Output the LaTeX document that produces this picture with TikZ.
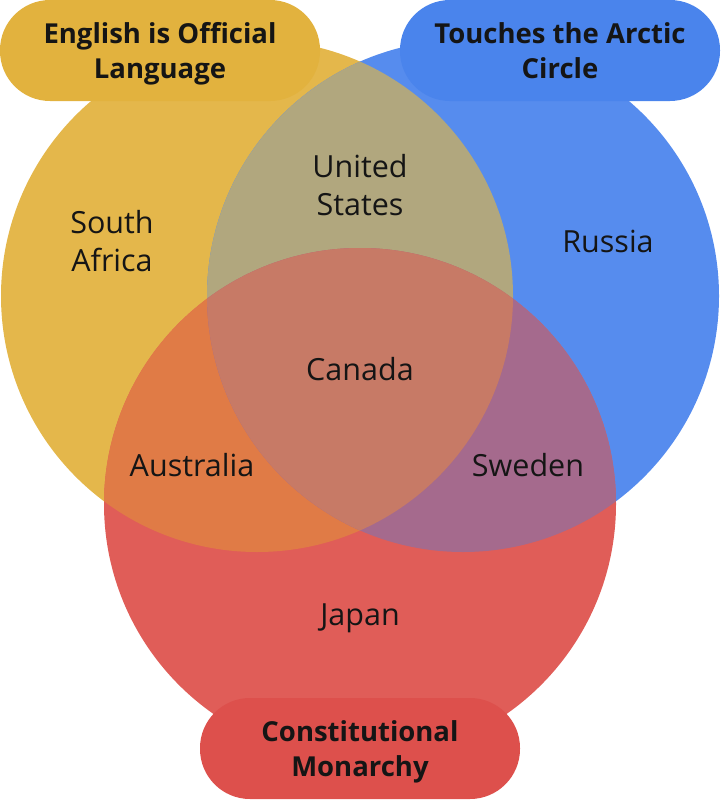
\documentclass[tikz,border=0pt]{standalone}
\usepackage{fontspec}
\setmainfont{Open Sans}
\usepackage{tikz}
\usetikzlibrary{positioning}
\definecolor{engfill}{HTML}{E4B74B}
\definecolor{arcfill}{HTML}{568CEE}
\definecolor{monfill}{HTML}{E05D58}
\definecolor{engarc}{HTML}{B1A77E}
\definecolor{engmon}{HTML}{E07B46}
\definecolor{arcmon}{HTML}{A56A8D}
\definecolor{allthree}{HTML}{C77A66}
\definecolor{engtag}{HTML}{E2B23E}
\definecolor{arctag}{HTML}{4A84EC}
\definecolor{montag}{HTML}{DD504C}
\definecolor{labeltext}{HTML}{151515}

\begin{document}
\begin{tikzpicture}[
  x=1pt, y=-1pt,
  tag/.style={rounded corners=50pt, minimum width=320pt, minimum height=101pt, inner sep=0pt, text depth=0pt, align=center, text=labeltext, font=\bfseries\fontsize{27.5}{35}\selectfont},
  country/.style={align=center, inner sep=0pt, text=labeltext, font=\fontsize{30.5}{38}\selectfont}
]
  \useasboundingbox (0,0) rectangle (720,800);
  \coordinate (ceng) at (257,296);
  \coordinate (carc) at (463,296);
  \coordinate (cmon) at (360,504);

  % the three sets
  \fill[engfill] (ceng) circle (256pt);
  \fill[arcfill] (carc) circle (256pt);
  \fill[monfill] (cmon) circle (256pt);
  % overlaps
  \begin{scope}
    \clip (ceng) circle (256pt);
    \fill[engarc] (carc) circle (256pt);
    \fill[engmon] (cmon) circle (256pt);
  \end{scope}
  \begin{scope}
    \clip (carc) circle (256pt);
    \fill[arcmon] (cmon) circle (256pt);
    \clip (ceng) circle (256pt);
    \fill[allthree] (cmon) circle (256pt);
  \end{scope}

  % set names
  \node[tag, fill=engtag] (eng) at (160,50.5) {English is Official\\Language};
  \node[tag, fill=arctag] (arctic) at (560,50.5) {Touches the Arctic\\Circle};
  \node[tag, fill=montag] (monarchy) at (360,748.5) {Constitutional\\Monarchy};

  % members
  \node[country] (safrica) at (112,241) {South\\Africa};
  \node[country] (usa) at (360,185) {United\\States};
  \node[country] (russia) at (608,241) {Russia};
  \node[country] (canada) at (360,369) {Canada};
  \node[country] (australia) at (192,465) {Australia};
  \node[country] (sweden) at (528,465) {Sweden};
  \node[country] (japan) at (360,618) {Japan};
\end{tikzpicture}
\end{document}
